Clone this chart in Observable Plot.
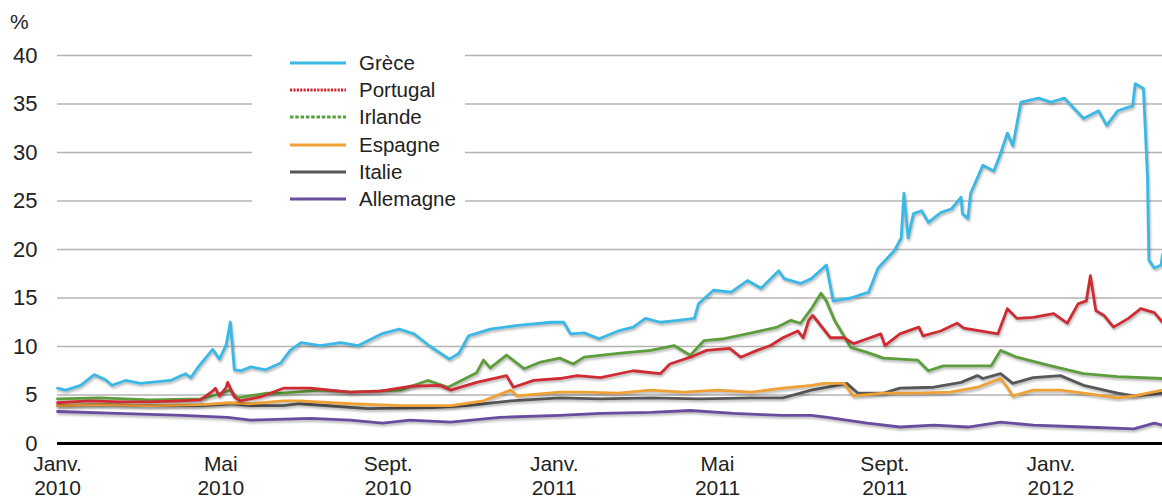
<!DOCTYPE html>
<html>
<head>
<meta charset="utf-8">
<script src="https://cdn.jsdelivr.net/npm/d3@7"></script>
<script src="https://cdn.jsdelivr.net/npm/@observablehq/plot@0.6"></script>
<style>
  html, body { margin: 0; padding: 0; background: #fff; }
  #wrap { position: relative; width: 1162px; height: 499px; font-family: "Liberation Sans", Arial, Helvetica, sans-serif; color: #222; }
  #pct { position: absolute; left: 10px; top: 10px; font-size: 21px; }
  #legend { position: absolute; left: 252px; top: 47px; width: 213px; background: #fff; padding: 2px 0 4px 0; }
  .row { height: 27.3px; display: flex; align-items: center; font-size: 20.5px; }
  .row svg { margin-left: 38px; margin-right: 13px; }
  g[aria-label="line"] path { filter: drop-shadow(1.5px 2px 1.2px rgba(0,0,0,0.28)); }
</style>
</head>
<body>
<div id="wrap"><div id="chart"></div><div id="pct">%</div><div id="legend"></div></div>
<script>
// ---- Data (10-year government bond yields, %) ----
const countries = ["Grèce", "Portugal", "Irlande", "Espagne", "Italie", "Allemagne"];
const colors = ["#3ab9e6", "#cf2b33", "#5d9e3c", "#f0a136", "#575757", "#6a4c9f"];

const grece = [
  ["2010-01-01",5.7],["2010-01-07",5.5],["2010-01-18",6.0],["2010-01-28",7.1],["2010-02-05",6.6],
  ["2010-02-10",6.0],["2010-02-20",6.5],["2010-03-03",6.2],["2010-03-10",6.3],["2010-03-25",6.5],
  ["2010-04-05",7.2],["2010-04-09",6.8],["2010-04-15",8.0],["2010-04-25",9.7],["2010-04-30",8.7],
  ["2010-05-05",10.2],["2010-05-08",12.5],["2010-05-11",7.6],["2010-05-16",7.5],["2010-05-23",7.9],
  ["2010-06-03",7.6],["2010-06-14",8.3],["2010-06-21",9.6],["2010-06-29",10.4],["2010-07-13",10.1],
  ["2010-07-28",10.4],["2010-08-10",10.1],["2010-08-27",11.3],["2010-09-09",11.8],["2010-09-20",11.3],
  ["2010-10-02",10.0],["2010-10-16",8.7],["2010-10-23",9.3],["2010-10-30",11.1],["2010-11-15",11.8],
  ["2010-12-07",12.2],["2010-12-30",12.5],["2011-01-08",12.5],["2011-01-13",11.3],["2011-01-23",11.4],
  ["2011-02-03",10.8],["2011-02-17",11.6],["2011-02-28",12.0],["2011-03-09",12.9],["2011-03-20",12.5],
  ["2011-04-02",12.7],["2011-04-14",12.9],["2011-04-17",14.4],["2011-04-28",15.8],["2011-05-11",15.6],
  ["2011-05-23",16.8],["2011-06-02",16.0],["2011-06-15",17.8],["2011-06-19",17.0],["2011-07-01",16.5],
  ["2011-07-09",17.0],["2011-07-20",18.4],["2011-07-25",14.7],["2011-08-07",15.0],["2011-08-20",15.6],
  ["2011-08-27",18.1],["2011-09-08",19.9],["2011-09-13",21.2],["2011-09-15",25.8],["2011-09-18",21.2],
  ["2011-09-22",23.7],["2011-09-28",24.0],["2011-10-03",22.8],["2011-10-12",23.8],["2011-10-20",24.2],
  ["2011-10-27",25.4],["2011-10-28",23.7],["2011-11-01",23.2],["2011-11-03",25.8],["2011-11-12",28.7],
  ["2011-11-20",28.1],["2011-11-24",29.5],["2011-11-30",32.0],["2011-12-04",30.7],["2011-12-10",35.2],
  ["2011-12-23",35.6],["2012-01-01",35.2],["2012-01-11",35.6],["2012-01-25",33.5],["2012-02-05",34.3],
  ["2012-02-11",32.8],["2012-02-19",34.3],["2012-03-01",34.8],["2012-03-03",37.1],["2012-03-09",36.6],
  ["2012-03-12",27.4],["2012-03-13",18.9],["2012-03-17",18.1],["2012-03-22",18.4],["2012-03-23",19.5]
];

const portugal = [
  ["2010-01-01",4.2],["2010-01-25",4.4],["2010-02-16",4.3],["2010-03-10",4.3],["2010-04-01",4.4],
  ["2010-04-16",4.5],["2010-04-25",5.4],["2010-04-27",5.7],["2010-04-30",4.9],["2010-05-05",5.8],
  ["2010-05-06",6.3],["2010-05-11",4.8],["2010-05-15",4.4],["2010-05-30",4.8],["2010-06-16",5.7],
  ["2010-07-06",5.7],["2010-08-04",5.3],["2010-08-26",5.4],["2010-09-17",5.9],["2010-10-09",6.0],
  ["2010-10-17",5.5],["2010-11-05",6.3],["2010-11-27",7.0],["2010-12-02",5.8],["2010-12-17",6.5],
  ["2011-01-05",6.7],["2011-01-18",7.0],["2011-02-04",6.8],["2011-02-28",7.5],["2011-03-20",7.2],
  ["2011-03-27",8.2],["2011-04-11",8.9],["2011-04-23",9.6],["2011-05-10",9.8],["2011-05-18",8.9],
  ["2011-05-30",9.6],["2011-06-09",10.1],["2011-06-18",10.9],["2011-06-29",11.6],["2011-07-03",10.9],
  ["2011-07-07",12.7],["2011-07-10",13.2],["2011-07-14",12.5],["2011-07-23",10.9],["2011-08-02",10.9],
  ["2011-08-09",10.3],["2011-08-19",10.8],["2011-08-29",11.3],["2011-09-01",10.1],["2011-09-12",11.3],
  ["2011-09-26",12.0],["2011-09-29",11.1],["2011-10-12",11.6],["2011-10-24",12.4],["2011-10-29",11.9],
  ["2011-11-10",11.6],["2011-11-23",11.3],["2011-11-30",13.9],["2011-12-07",12.9],["2011-12-19",13.0],
  ["2012-01-03",13.4],["2012-01-13",12.4],["2012-01-21",14.4],["2012-01-27",14.7],["2012-01-30",17.3],
  ["2012-02-03",13.7],["2012-02-09",13.2],["2012-02-16",12.0],["2012-02-27",12.9],["2012-03-07",13.9],
  ["2012-03-17",13.5],["2012-03-23",12.5]
];

const irlande = [
  ["2010-01-01",4.6],["2010-02-01",4.7],["2010-03-10",4.5],["2010-04-16",4.6],["2010-04-27",5.0],
  ["2010-05-08",5.5],["2010-05-13",4.7],["2010-06-04",5.2],["2010-06-16",5.2],["2010-07-13",5.5],
  ["2010-08-04",5.3],["2010-09-10",5.5],["2010-09-30",6.5],["2010-10-15",5.8],["2010-11-05",7.3],
  ["2010-11-10",8.6],["2010-11-15",7.8],["2010-11-27",9.1],["2010-12-10",7.7],["2010-12-22",8.4],
  ["2011-01-05",8.8],["2011-01-15",8.2],["2011-01-23",8.9],["2011-02-17",9.3],["2011-03-13",9.6],
  ["2011-03-30",10.1],["2011-04-11",9.1],["2011-04-21",10.6],["2011-05-06",10.8],["2011-05-26",11.4],
  ["2011-06-14",12.0],["2011-06-24",12.7],["2011-07-01",12.4],["2011-07-09",13.9],["2011-07-16",15.5],
  ["2011-07-20",14.7],["2011-07-26",12.7],["2011-08-07",9.9],["2011-08-19",9.4],["2011-08-31",8.8],
  ["2011-09-25",8.6],["2011-10-03",7.5],["2011-10-14",8.0],["2011-10-27",8.0],["2011-11-18",8.0],
  ["2011-11-25",9.6],["2011-12-07",8.9],["2012-01-01",8.0],["2012-01-25",7.2],["2012-02-19",6.9],
  ["2012-03-23",6.7]
];

const espagne = [
  ["2010-01-01",3.9],["2010-02-01",4.0],["2010-03-10",3.9],["2010-04-16",4.0],["2010-05-08",4.2],
  ["2010-05-23",4.1],["2010-06-16",4.4],["2010-06-28",4.4],["2010-08-04",4.1],["2010-09-10",3.9],
  ["2010-10-17",3.9],["2010-11-10",4.4],["2010-11-30",5.5],["2010-12-05",4.9],["2011-01-05",5.3],
  ["2011-01-23",5.3],["2011-02-17",5.2],["2011-03-13",5.5],["2011-04-06",5.3],["2011-05-01",5.5],
  ["2011-05-26",5.3],["2011-06-18",5.7],["2011-07-09",6.0],["2011-07-18",6.2],["2011-08-02",6.2],
  ["2011-08-09",4.9],["2011-08-31",5.2],["2011-09-25",5.2],["2011-10-19",5.3],["2011-11-08",5.8],
  ["2011-11-25",6.7],["2011-11-30",5.8],["2011-12-04",4.9],["2011-12-19",5.5],["2012-01-08",5.5],
  ["2012-01-25",5.2],["2012-02-19",4.7],["2012-03-02",4.9],["2012-03-23",5.5]
];

const italie = [
  ["2010-01-01",3.9],["2010-02-01",4.0],["2010-03-10",3.9],["2010-04-16",3.9],["2010-05-08",4.1],
  ["2010-05-23",3.9],["2010-06-16",3.9],["2010-06-28",4.1],["2010-08-17",3.6],["2010-10-04",3.7],
  ["2010-10-29",3.9],["2010-11-30",4.4],["2011-01-05",4.7],["2011-02-04",4.6],["2011-03-13",4.7],
  ["2011-04-18",4.6],["2011-05-26",4.7],["2011-06-18",4.7],["2011-07-09",5.5],["2011-07-21",5.8],
  ["2011-08-04",6.2],["2011-08-12",5.2],["2011-08-31",5.2],["2011-09-12",5.7],["2011-10-07",5.8],
  ["2011-10-27",6.3],["2011-11-08",7.0],["2011-11-12",6.7],["2011-11-25",7.2],["2011-12-04",6.2],
  ["2011-12-19",6.8],["2012-01-08",7.0],["2012-01-25",6.0],["2012-02-19",5.2],["2012-03-02",4.9],
  ["2012-03-23",5.2]
];

const allemagne = [
  ["2010-01-01",3.3],["2010-02-14",3.1],["2010-04-03",2.9],["2010-05-06",2.7],["2010-05-23",2.4],
  ["2010-07-06",2.6],["2010-08-04",2.4],["2010-08-28",2.1],["2010-09-17",2.4],["2010-10-17",2.2],
  ["2010-11-22",2.7],["2011-01-05",2.9],["2011-02-04",3.1],["2011-03-13",3.2],["2011-04-11",3.4],
  ["2011-05-13",3.1],["2011-06-18",2.9],["2011-07-09",2.9],["2011-07-21",2.7],["2011-08-19",2.1],
  ["2011-09-12",1.7],["2011-10-07",1.9],["2011-11-01",1.7],["2011-11-25",2.2],["2011-12-19",1.9],
  ["2012-01-25",1.7],["2012-03-02",1.5],["2012-03-17",2.1],["2012-03-23",1.9]
];

const yTicks = [0, 5, 10, 15, 20, 25, 30, 35, 40];
const xTickDates = ["2010-01-01","2010-05-01","2010-09-01","2011-01-01","2011-05-01","2011-09-01","2012-01-01"];
const xTickMonths = ["Janv.","Mai","Sept.","Janv.","Mai","Sept.","Janv."];
const xTickYears = ["2010","2010","2010","2011","2011","2011","2012"];
const xDomain = ["2010-01-01", "2012-03-23"];

// ---- Build table ----
const seriesData = [grece, portugal, irlande, espagne, italie, allemagne];
const rows = [];
for (let i = countries.length - 1; i >= 0; i--) {
  for (const [d, v] of seriesData[i]) rows.push({country: countries[i], date: new Date(d), value: v});
}
const tickDates = xTickDates.map(d => new Date(d));
const tickLabel = new Map(xTickDates.map((d, i) => [+new Date(d), xTickMonths[i] + "\n" + xTickYears[i]]));

const chart = Plot.plot({
  width: 1162,
  height: 499,
  marginLeft: 57,
  marginRight: 0,
  marginTop: 55,
  marginBottom: 56,
  style: {fontFamily: '"Liberation Sans", Arial, Helvetica, sans-serif', color: "#222", background: "#fff", overflow: "visible"},
  x: {type: "utc", domain: xDomain.map(d => new Date(d))},
  y: {domain: [0, 40]},
  color: {domain: countries, range: colors},
  marks: [
    Plot.gridY(yTicks.filter(t => t > 0), {stroke: "#b4b4b4", strokeOpacity: 1, strokeWidth: 1.3}),
    Plot.axisY(yTicks, {tickSize: 0, tickPadding: 20, fontSize: 22, label: null}),
    Plot.axisX(tickDates, {tickSize: 0, tickPadding: 10, fontSize: 21, lineHeight: 1.15, label: null,
      tickFormat: d => tickLabel.get(+d)}),
    Plot.line(rows, {x: "date", y: "value", z: "country", stroke: "country", strokeWidth: 2.8,
      strokeLinejoin: "round", strokeLinecap: "round"}),
    Plot.ruleY([0], {stroke: "#000", strokeWidth: 3.2})
  ]
});
document.getElementById("chart").appendChild(chart);

// ---- Legend ----
const dashes = [null, "2.2,1.2", "3.5,1.8", null, null, null];
const legend = document.getElementById("legend");
countries.forEach((c, i) => {
  const row = document.createElement("div");
  row.className = "row";
  row.innerHTML = `<svg width="56" height="8"><line x1="0" x2="56" y1="4" y2="4" stroke="${colors[i]}" stroke-width="2.8" ${dashes[i] ? `stroke-dasharray="${dashes[i]}"` : ""}/></svg><span>${c}</span>`;
  legend.appendChild(row);
});
</script>
</body>
</html>
